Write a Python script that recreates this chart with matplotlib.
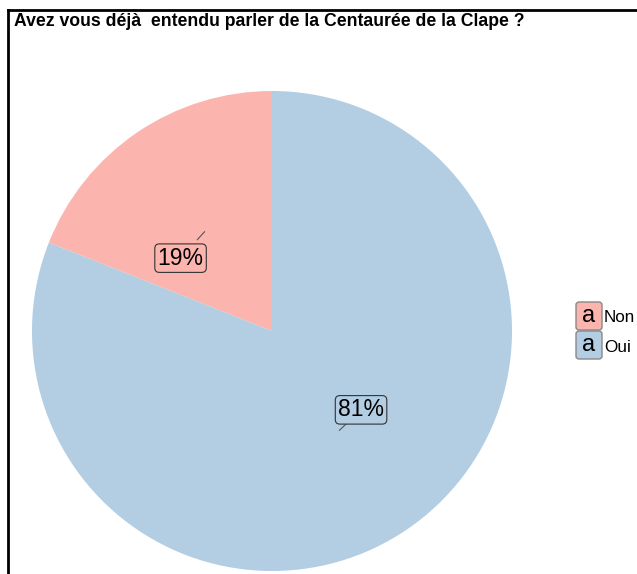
import matplotlib.pyplot as plt
import numpy as np
from matplotlib.patches import FancyBboxPatch
from matplotlib.lines import Line2D

categories = ['Non', 'Oui']
percent = [19, 81]
colors = ['#FBB4AE', '#B3CDE3']
title = 'Avez vous déjà  entendu parler de la Centaurée de la Clape ?'

plt.rcParams['font.family'] = ['Liberation Sans', 'DejaVu Sans']

W, H = 637, 574
fig = plt.figure(figsize=(W / 100, H / 100), dpi=100)
# pie area: centre (272, 331) px, radius 240 px
ax = fig.add_axes([32 / W, (H - 571) / H, 480 / W, 480 / H])
ax.pie(percent, colors=colors, startangle=90, counterclock=True, radius=1,
       wedgeprops=dict(linewidth=0))
ax.set_xlim(-1, 1)
ax.set_ylim(-1, 1)
ax.set_aspect('auto')
ax.axis('off')

# labels, repelled a little from the mid point of each slice
offsets = [(-0.10, -0.11), (0.09, 0.085)]
start = 90.0
for p, c, off in zip(percent, colors, offsets):
    mid = np.deg2rad(start + p / 100 * 360 / 2)
    start += p / 100 * 360
    x0, y0 = 0.5 * np.cos(mid), 0.5 * np.sin(mid)
    tx, ty = x0 + off[0], y0 + off[1]
    ax.plot([x0, x0 + off[0] * 0.3], [y0, y0 + off[1] * 0.3], color='#555555', lw=0.8)
    ax.text(tx, ty, f'{p}%', ha='center', va='center', fontsize=16.5,
            bbox=dict(boxstyle='round,pad=0.12,rounding_size=0.2', fc=c, ec='#333333', lw=0.8))

fig.text(14 / W, 1 - 22 / H, title, fontsize=12.7, fontweight='bold', va='center', ha='left')

# legend
for i, (cat, c) in enumerate(zip(categories, colors)):
    y = 302 + i * 29
    box = FancyBboxPatch((576 / W, 1 - (y + 28) / H), 26 / W, 28 / H,
                         boxstyle='round,pad=0,rounding_size=0.005',
                         transform=fig.transFigure, fc=c, ec='#888888', lw=1)
    fig.patches.append(box)
    fig.text(589 / W, 1 - (y + 14) / H, 'a', fontsize=17, ha='center', va='center')
    fig.text(604 / W, 1 - (y + 16) / H, cat, fontsize=12.3, ha='left', va='center')

# frame lines of the screenshot
fig.add_artist(Line2D([8 / W, 1], [1 - 10 / H, 1 - 10 / H], color='black', lw=2, transform=fig.transFigure))
fig.add_artist(Line2D([8 / W, 8 / W], [0, 1 - 10 / H], color='black', lw=2, transform=fig.transFigure))

fig.savefig('out.png', dpi=100)
